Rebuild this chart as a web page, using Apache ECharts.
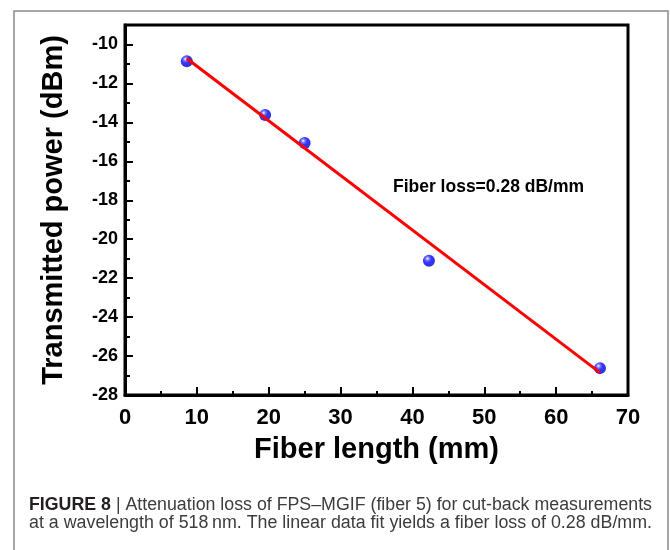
<!DOCTYPE html>
<html><head><meta charset="utf-8">
<script src="https://cdn.jsdelivr.net/npm/echarts@6/dist/echarts.min.js"></script>
<style>html,body{margin:0;padding:0;background:#fff}#c{width:670px;height:550px}</style>
</head><body><div id="c"></div>
<script>
// ---- data ----
var fiberLength = [8.6, 19.5, 25.0, 42.3, 66.1];          // mm
var transmittedPower = [-10.86, -13.62, -15.06, -21.11, -26.62]; // dBm
var fitLength = [8.6, 66.1];
var fitPower = [-10.72, -26.85];
var xTicks = [0, 10, 20, 30, 40, 50, 60, 70];
var yTicks = [-28, -26, -24, -22, -20, -18, -16, -14, -12, -10];
var xTitle = 'Fiber length (mm)';
var yTitle = 'Transmitted power (dBm)';
var annotation = 'Fiber loss=0.28 dB/mm';
var captionBold = 'FIGURE 8';
var captionLine1 = ' | Attenuation loss of FPS\u2013MGIF (fiber 5) for cut-back measurements';
var captionLine2 = 'at a wavelength of 518\u202Fnm. The linear data fit yields a fiber loss of 0.28 dB/mm.';

var FF = '"Liberation Sans", Arial, Helvetica, sans-serif';
var mctx = document.createElement('canvas').getContext('2d');
function tw(text, font){ mctx.font = font; return mctx.measureText(text).width; }

var scatterData = fiberLength.map(function(x,i){ return [x, transmittedPower[i]]; });
var fitData = fitLength.map(function(x,i){ return [x, fitPower[i]]; });

// caption layout
var capLeft = 29, capRight = 652, capW = capRight - capLeft;
var fBold = 'bold 18px ' + FF, fReg = '18px ' + FF;
var wb = tw(captionBold, fBold), wr = tw(captionLine1, fReg);
var s1 = capW / (wb + wr);
var s2 = capW / tw(captionLine2, fReg);
var fAnn = 'bold 19px ' + FF;
var sAnn = 191 / tw(annotation, fAnn);

var chart = echarts.init(document.getElementById('c'), null, {renderer:'canvas'});
chart.setOption({
  animation: false,
  backgroundColor: '#fff',
  grid: {left:125, right:42, top:25, bottom:155, show:true, borderColor:'#000', borderWidth:3, containLabel:false},
  xAxis: {
    type:'value', min:xTicks[0], max:xTicks[xTicks.length-1], interval:10,
    name: xTitle, nameLocation:'middle', nameGap:40,
    nameTextStyle:{fontFamily:FF, fontWeight:'bold', fontSize:29, color:'#000'},
    axisLine:{show:true, lineStyle:{color:'#000', width:3}},
    axisTick:{show:true, inside:true, length:8, lineStyle:{color:'#000', width:2}},
    minorTick:{show:true, splitNumber:2, length:4, lineStyle:{color:'#000', width:2}},
    axisLabel:{fontFamily:FF, fontWeight:'bold', fontSize:22, color:'#000', margin:12},
    splitLine:{show:false}
  },
  yAxis: [{
    type:'value', min:yTicks[0], max:-9, interval:2, position:'left',
    name: yTitle, nameLocation:'middle', nameGap:57,
    nameTextStyle:{fontFamily:FF, fontWeight:'bold', fontSize:29, color:'#000'},
    axisLine:{show:true, lineStyle:{color:'#000', width:3}},
    axisTick:{show:true, inside:true, length:8, lineStyle:{color:'#000', width:2}},
    axisLabel:{fontFamily:FF, fontWeight:'bold', fontSize:18, color:'#000', margin:7, showMaxLabel:false,
      formatter:function(v){ return yTicks.indexOf(v) >= 0 ? String(v) : ''; }},
    splitLine:{show:false}
  },{
    type:'value', min:yTicks[0], max:-9, interval:1, position:'left',
    axisLine:{show:false},
    axisTick:{show:true, inside:true, length:5, lineStyle:{color:'#000', width:2}},
    axisLabel:{show:false}, splitLine:{show:false}
  }],
  series: [{
    type:'scatter', data:scatterData, symbol:'circle', symbolSize:12, z:2,
    itemStyle:{color:{type:'radial', x:0.38, y:0.32, r:0.75, colorStops:[
      {offset:0, color:'#ffffff'}, {offset:0.2, color:'#5a5aff'}, {offset:0.45, color:'#0000ff'}, {offset:1, color:'#0000c0'}]}}
  },{
    type:'line', data:fitData, symbol:'none', z:3,
    lineStyle:{color:'#ff0000', width:3}
  }],
  graphic: [
    {type:'rect', shape:{x:14, y:11, width:654, height:600}, style:{fill:'none', stroke:'#8a8a8a', lineWidth:1.5}, silent:true},
    {type:'text', x:393, y:186.5, scaleX:sAnn, style:{text:annotation, font:fAnn, fill:'#000', textVerticalAlign:'middle', textAlign:'left'}},
    {type:'text', x:capLeft, y:504.8, scaleX:s1, style:{text:captionBold, font:fBold, fill:'#231f20', textVerticalAlign:'middle', textAlign:'left'}},
    {type:'text', x:capLeft + wb*s1, y:504.8, scaleX:s1, style:{text:captionLine1, font:fReg, fill:'#3c3c3c', textVerticalAlign:'middle', textAlign:'left'}},
    {type:'text', x:capLeft, y:523.5, scaleX:s2, style:{text:captionLine2, font:fReg, fill:'#3c3c3c', textVerticalAlign:'middle', textAlign:'left'}}
  ]
});
</script>
</body></html>
